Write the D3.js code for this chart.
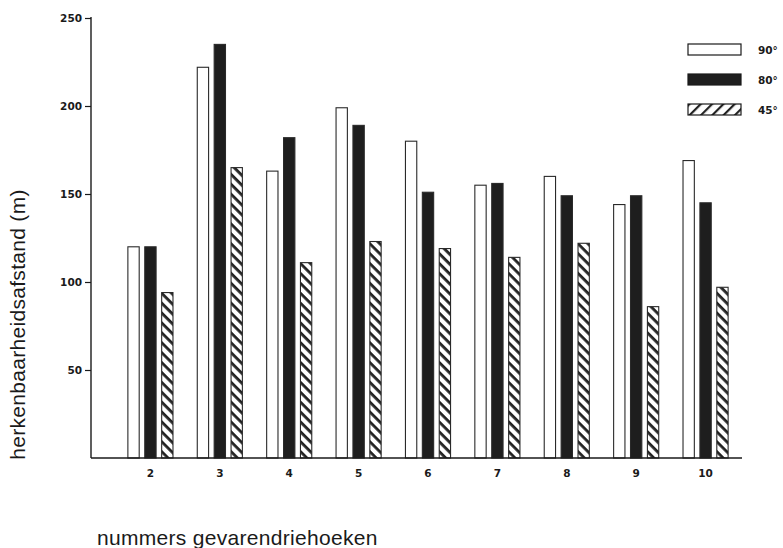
<!DOCTYPE html>
<html>
<head>
<meta charset="utf-8">
<script src="https://cdn.jsdelivr.net/npm/d3@7"></script>
<style>
  html, body { margin: 0; padding: 0; background: #fff; }
  svg { display: block; }
  .tick-label { font-family: "DejaVu Sans", sans-serif; font-weight: bold; font-size: 10.5px; fill: #1a1a1a; }
  .title { font-family: "Liberation Sans", Arial, sans-serif; font-size: 21px; fill: #1a1a1a; }
</style>
</head>
<body>
<svg id="chart" width="783" height="548"></svg>
<script>
// Triangle numbers on the x axis
const categories = ["2", "3", "4", "5", "6", "7", "8", "9", "10"];
// Recognition distance (m) per viewing angle
const values90 = [120, 222, 163, 199, 180, 155, 160, 144, 169];
const values80 = [120, 235, 182, 189, 151, 156, 149, 149, 145];
const values45 = [94, 165, 111, 123, 119, 114, 122, 86, 97];
const seriesKeys = ["90", "80", "45"];
const seriesLabels = ["90°", "80°", "45°"];
const yTicks = [50, 100, 150, 200, 250];

const svg = d3.select("#chart");
const axisX = 91, baseY = 458, topY = 18, axisEnd = 742;

const y = d3.scaleLinear().domain([0, 250]).range([baseY, topY]);
const x0 = d3.scaleBand().domain(categories).range([114, 742]).paddingInner(0.35).paddingOuter(0.2);
const x1 = d3.scaleBand().domain(seriesKeys).range([0, x0.bandwidth()]).paddingInner(0.33);

// hatch patterns: bars descend to the right, legend swatch rises to the right
const defs = svg.append("defs");
const bs = defs.append("pattern").attr("id", "hatchBar").attr("patternUnits", "userSpaceOnUse")
  .attr("width", 7).attr("height", 7).attr("patternTransform", "rotate(45)");
bs.append("rect").attr("width", 7).attr("height", 7).attr("fill", "#fff");
bs.append("rect").attr("x", 0).attr("y", 0).attr("width", 7).attr("height", 2.8).attr("fill", "#222");

const ls = defs.append("pattern").attr("id", "hatchLegend").attr("patternUnits", "userSpaceOnUse")
  .attr("width", 8).attr("height", 8).attr("patternTransform", "rotate(-45)");
ls.append("rect").attr("width", 8).attr("height", 8).attr("fill", "#fff");
ls.append("rect").attr("x", 0).attr("y", 0).attr("width", 8).attr("height", 2.2).attr("fill", "#222");

const fills = { "90": "#fff", "80": "#1e1e1e", "45": "url(#hatchBar)" };
const rows = categories.map((c, i) => ({ cat: c, vals: [
  { key: "90", v: values90[i] }, { key: "80", v: values80[i] }, { key: "45", v: values45[i] }
]}));

// bars
const groups = svg.append("g").selectAll("g").data(rows).join("g")
  .attr("transform", d => `translate(${x0(d.cat)},0)`);
groups.selectAll("rect").data(d => d.vals).join("rect")
  .attr("x", d => x1(d.key))
  .attr("y", d => y(d.v))
  .attr("width", x1.bandwidth())
  .attr("height", d => y(0) - y(d.v))
  .attr("fill", d => fills[d.key])
  .attr("stroke", "#2a2a2a")
  .attr("stroke-width", 1.1);

// y axis
const yAxis = d3.axisLeft(y).tickValues(yTicks).tickSize(6).tickPadding(3).tickFormat(d3.format("d"));
const gy = svg.append("g").attr("transform", `translate(${axisX},0)`).call(yAxis);
gy.select(".domain").remove();
gy.selectAll(".tick line").attr("stroke", "#1a1a1a").attr("stroke-width", 1.2);
gy.selectAll(".tick text").attr("class", "tick-label").attr("font-family", null).attr("font-size", null);
svg.append("line").attr("x1", axisX).attr("x2", axisX).attr("y1", y(250) - 1).attr("y2", baseY)
  .attr("stroke", "#1a1a1a").attr("stroke-width", 1.4);

// baseline and category labels
svg.append("line").attr("x1", axisX).attr("x2", axisEnd).attr("y1", baseY).attr("y2", baseY)
  .attr("stroke", "#1a1a1a").attr("stroke-width", 1.4);
const xAxis = d3.axisBottom(x0).tickSize(0).tickPadding(12);
const gx = svg.append("g").attr("transform", `translate(0,${baseY})`).call(xAxis);
gx.select(".domain").remove();
gx.selectAll(".tick text").attr("class", "tick-label").attr("font-family", null).attr("font-size", null);

// axis titles
svg.append("text").attr("class", "title")
  .attr("transform", `translate(25,${(192 + 457) / 2}) rotate(-90)`)
  .attr("text-anchor", "middle").attr("letter-spacing", 0.3)
  .text("herkenbaarheidsafstand (m)");
svg.append("text").attr("class", "title")
  .attr("x", 97).attr("y", 545).attr("letter-spacing", 0.3)
  .text("nummers gevarendriehoeken");

// legend
const legendFills = { "90": "#fff", "80": "#1e1e1e", "45": "url(#hatchLegend)" };
const lg = svg.append("g").selectAll("g").data(seriesKeys).join("g")
  .attr("transform", (d, i) => `translate(688,${44 + i * 30})`);
lg.append("rect").attr("width", 53).attr("height", 11)
  .attr("fill", d => legendFills[d]).attr("stroke", "#1a1a1a").attr("stroke-width", 1.2);
lg.append("text").attr("class", "tick-label").attr("x", 70).attr("y", 10)
  .text((d, i) => seriesLabels[i]);
</script>
</body>
</html>
